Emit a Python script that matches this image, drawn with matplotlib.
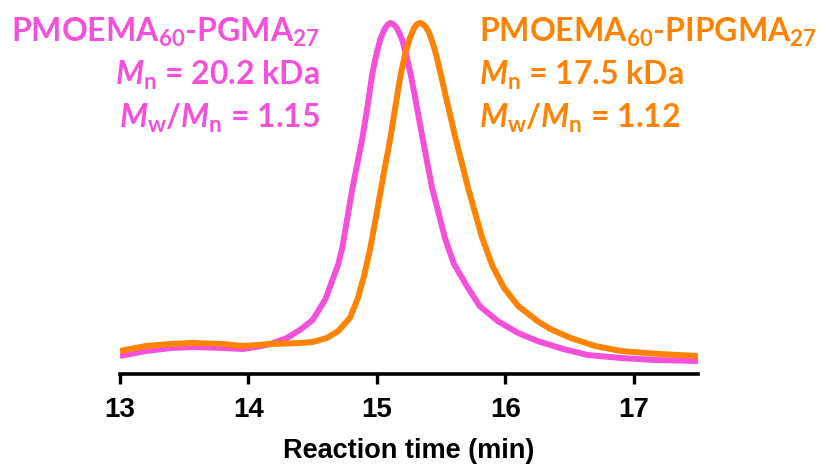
import matplotlib
matplotlib.use("Agg")
import matplotlib.pyplot as plt

plt.rcParams['mathtext.fontset'] = 'custom'
plt.rcParams['mathtext.rm'] = 'Lato:bold'
plt.rcParams['mathtext.it'] = 'Lato:bold:italic'
plt.rcParams['mathtext.bf'] = 'Lato:bold'

# Elution trace of PMOEMA60-PGMA27 (time in min, detector signal in a.u.)
pink_t = [13.0, 13.2, 13.4, 13.57, 13.8, 13.96, 14.1, 14.17, 14.3, 14.4, 14.5, 14.6, 14.7,
          14.73, 14.81, 14.887, 14.93, 14.965, 15.0, 15.03, 15.06, 15.085, 15.105, 15.125,
          15.15, 15.175, 15.2, 15.23, 15.261, 15.3, 15.355, 15.43, 15.53, 15.6, 15.71, 15.8,
          15.94, 16.1, 16.25, 16.45, 16.64, 16.9, 17.16, 17.5]
pink_y = [18, 23, 26, 27, 26, 25, 28, 30, 36, 44, 54, 75, 110,
          126, 186, 236, 270, 301, 322, 336, 345, 349.5, 351, 350,
          347, 341, 333, 318, 301, 275, 236, 186, 136, 110, 86, 68,
          53, 41, 33, 25, 19, 16, 14, 13]

# Elution trace of PMOEMA60-PIPGMA27
orange_t = [13.0, 13.2, 13.4, 13.57, 13.8, 13.96, 14.17, 14.4, 14.5, 14.61, 14.7, 14.74, 14.79,
            14.85, 14.9, 14.949, 15.0, 15.05, 15.105, 15.15, 15.183, 15.22, 15.26, 15.29, 15.31,
            15.331, 15.35, 15.375, 15.4, 15.43, 15.46, 15.495, 15.55, 15.612, 15.71, 15.82, 15.9,
            15.99, 16.1, 16.25, 16.35, 16.51, 16.7, 16.9, 17.2, 17.5]
orange_y = [23, 28, 30, 31, 30, 28, 30, 31, 32, 36, 43, 49, 56,
            75, 98, 126, 162, 198, 236, 272, 298, 320, 337, 346, 349.5,
            351, 350.5, 348, 343, 333, 320, 301, 270, 236, 186, 136, 108,
            86, 68, 53, 45, 36, 28, 23, 20, 18]

xticks = [13, 14, 15, 16, 17]
xlabel = "Reaction time (min)"

pink_lines = [r"PMOEMA$_{\mathrm{60}}$-PGMA$_{\mathrm{27}}$",
              r"$\mathit{M}_{\mathrm{n}}$ = 20.2 kDa",
              r"$\mathit{M}_{\mathrm{w}}$/$\mathit{M}_{\mathrm{n}}$ = 1.15"]
orange_lines = [r"PMOEMA$_{\mathrm{60}}$-PIPGMA$_{\mathrm{27}}$",
                r"$\mathit{M}_{\mathrm{n}}$ = 17.5 kDa",
                r"$\mathit{M}_{\mathrm{w}}$/$\mathit{M}_{\mathrm{n}}$ = 1.12"]

PINK = "#F550DA"
ORANGE = "#FF8300"

fig = plt.figure(figsize=(8.26, 4.70), dpi=100)
ax = fig.add_axes([120/826, 1-374/470, (698-120)/826, 374/470])
ax.plot(pink_t, pink_y, color=PINK, lw=4.3, solid_joinstyle='round', solid_capstyle='butt', zorder=2)
ax.plot(orange_t, orange_y, color=ORANGE, lw=4.3, solid_joinstyle='round', solid_capstyle='butt', zorder=3)
ax.set_xlim(13, 17.5)
ax.set_ylim(0, 374)
for s in ['top', 'right', 'left']:
    ax.spines[s].set_visible(False)
ax.spines['bottom'].set_linewidth(2.6)
ax.set_yticks([])
ax.set_xticks(xticks)
ax.set_xticklabels([str(v) for v in xticks], fontfamily='Liberation Sans',
                   fontweight='bold', fontsize=20)
ax.tick_params(axis='x', direction='out', length=7.5, width=2.4, pad=9)
ax.set_xlabel(xlabel, fontfamily='Liberation Sans', fontweight='bold', fontsize=19.5, labelpad=11)

ys = [42, 85, 128]
for txt, y in zip(pink_lines, ys):
    fig.text(320/826, 1-y/470, txt, color=PINK, ha='right', va='baseline',
             fontfamily='Lato', fontweight='bold', fontsize=23)
for txt, y in zip(orange_lines, ys):
    fig.text(479/826, 1-y/470, txt, color=ORANGE, ha='left', va='baseline',
             fontfamily='Lato', fontweight='bold', fontsize=23)

fig.savefig("out.png", dpi=100)
